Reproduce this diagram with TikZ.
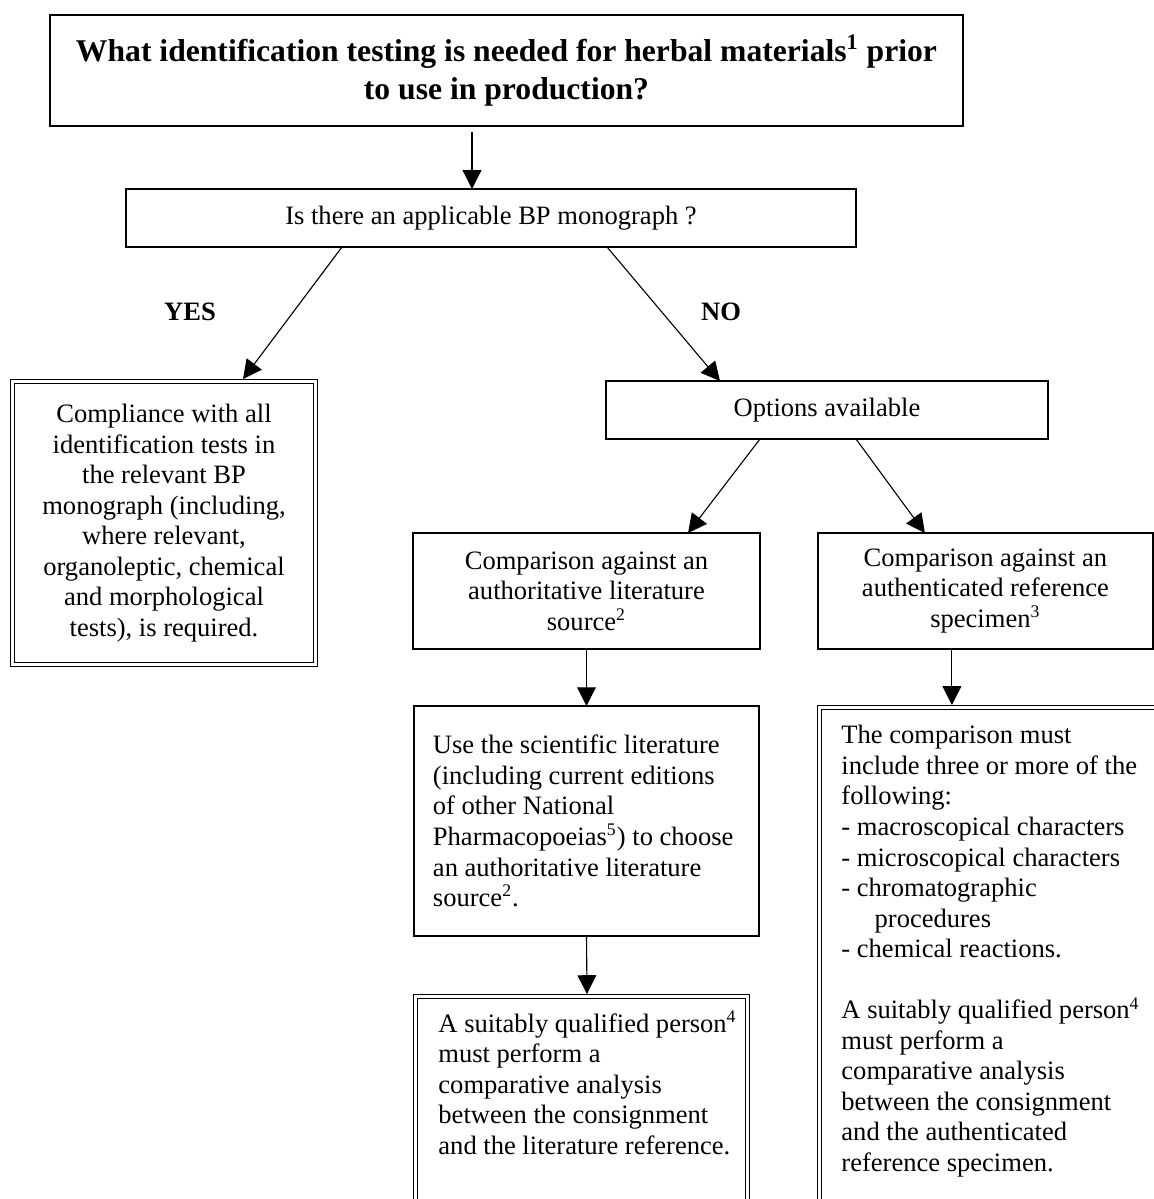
\documentclass[tikz,border=0pt]{standalone}
\usepackage{fontspec}
\setmainfont{Liberation Serif}
\usetikzlibrary{arrows.meta,positioning,calc}

\begin{document}
\begin{tikzpicture}[
  x=0.452pt, y=-0.452pt,
  font=\fontsize{12}{13.8}\selectfont,
  box/.style={draw, line width=0.6pt, align=center, inner sep=0pt, outer sep=0pt},
  dbox/.style={draw, line width=0.6pt, double, double distance=1.2pt, inner sep=0pt, outer sep=0pt},
  arrow/.style={-{Triangle[length=8.5pt,width=8.5pt]}, line width=0.5pt},
  answer/.style={font=\fontsize{12}{13.8}\selectfont\bfseries},
  txt/.style={align=flush left, inner sep=0pt, anchor=north west}
]
\path[use as bounding box, clip] (0,0) rectangle (1154,1199);

\node[box, minimum width=412.7pt, minimum height=50.2pt, font=\fontsize{14.3}{17.2}\selectfont\bfseries] (title) at (506.5,70.5)
  {What identification testing is needed for herbal materials\textsuperscript{1} prior\\to use in production?};
\node[box, minimum width=330pt, minimum height=26.2pt] (ask) at (491,218) {Is there an applicable BP monograph ?};

\draw[arrow] ($(title.south)+(-34.5,6)$) -- ($(ask.north)+(-19,0)$);

\node[answer] (yes) at (190,312) {YES};
\node[answer] (no) at (721,312) {NO};

\node[dbox, align=center, minimum width=137pt, minimum height=127.9pt] (comply) at (164,523)
  {Compliance with all\\identification tests in\\the relevant BP\\monograph (including,\\where relevant,\\organoleptic, chemical\\and morphological\\tests), is required.};
\node[box, minimum width=199.8pt, minimum height=26.2pt] (options) at (827,410) {Options available};

\draw[arrow] ($(ask.south)+(-149,0)$) -- ($(comply.north)+(79,-2.5)$);
\draw[arrow] ($(ask.south)+(116,0)$) -- ($(options.north)+(-107,0)$);

\node[box, minimum width=156.8pt, minimum height=52.4pt] (lit) at (586.5,591)
  {Comparison against an\\authoritative literature\\source\textsuperscript{2}};
\node[box, minimum width=151.4pt, minimum height=52.4pt, right=26.2pt of lit] (spec)
  {Comparison against an\\authenticated reference\\specimen\textsuperscript{3}};

\draw[arrow] ($(options.south)+(-67,0)$) -- ($(lit.north)+(101.5,0)$);
\draw[arrow] ($(options.south)+(29,0)$) -- ($(spec.north)+(-60.5,0)$);

\node[box, align=flush left, text width=138.8pt, inner xsep=8.6pt, minimum height=104pt, below=25.8pt of lit] (use)
  {Use the scientific literature\\(including current editions\\of other National\\Pharmacopoeias\textsuperscript{5}) to choose\\an authoritative literature\\source\textsuperscript{2}.};
\draw[arrow] (lit.south) -- (use.north);

\node[dbox, minimum width=150pt, minimum height=110pt, anchor=north west] (litcheck) at (415.5,996.5) {};
\node[txt] (littext) at ($(litcheck.north west)+(22.5,14)$)
  {A suitably qualified person\textsuperscript{4}\\must perform a\\comparative analysis\\between the consignment\\and the literature reference.};
\draw[arrow] (use.south) -- ($(litcheck.north west)+(171.5,-2.5)$);

\node[dbox, minimum width=171.8pt, minimum height=240.7pt, anchor=north west] (speccheck) at (819.5,707.5) {};
\node[txt] (spectext) at ($(speccheck.north west)+(21.5,17.5)$)
  {The comparison must\\include three or more of the\\following:\\- macroscopical characters\\- microscopical characters\\- chromatographic\\\hspace*{15pt}procedures\\- chemical reactions.\\[13.8pt]A suitably qualified person\textsuperscript{4}\\must perform a\\comparative analysis\\between the consignment\\and the authenticated\\reference specimen.};
\draw[arrow] ($(spec.south)+(-33.5,0)$) coordinate (specout) -- ($(specout |- speccheck.north)+(0,-2.5)$);

\end{tikzpicture}
\end{document}
